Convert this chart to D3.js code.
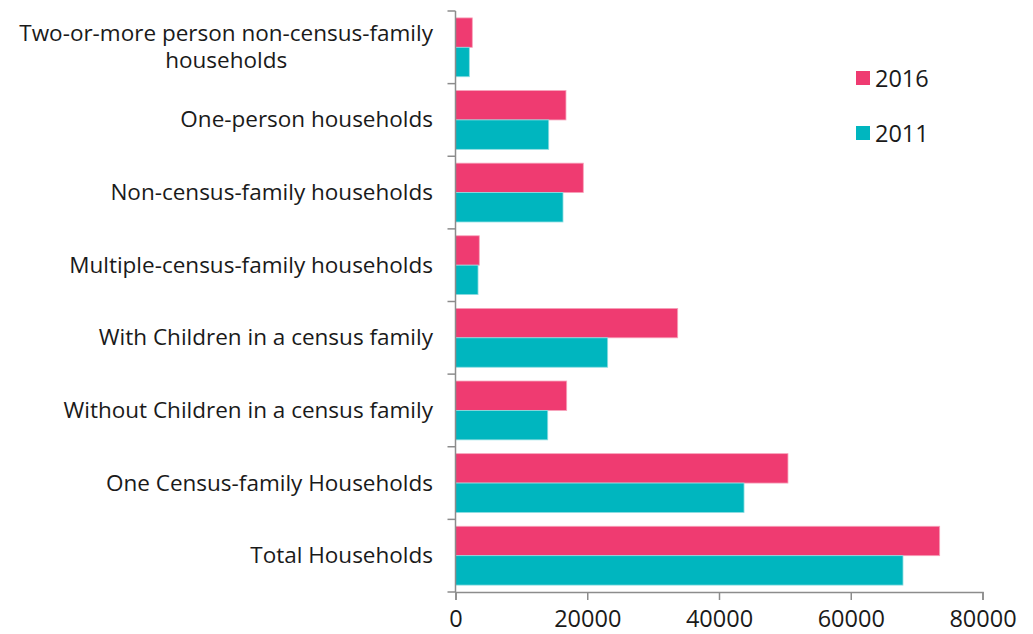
<!DOCTYPE html>
<html>
<head>
<meta charset="utf-8">
<script src="https://cdn.jsdelivr.net/npm/d3@7"></script>
<style>
  body { margin:0; background:#fff; }
  text { font-family: "Open Sans", sans-serif; fill:#1a1a1a; }
</style>
</head>
<body>
<div id="chart"></div>
<script>
// categories top to bottom
var categories = [
  "Two-or-more person non-census-family households",
  "One-person households",
  "Non-census-family households",
  "Multiple-census-family households",
  "With Children in a census family",
  "Without Children in a census family",
  "One Census-family Households",
  "Total Households"
];
// wrapped label lines
var labelLines = [
  ["Two-or-more person non-census-family", "households"],
  ["One-person households"],
  ["Non-census-family households"],
  ["Multiple-census-family households"],
  ["With Children in a census family"],
  ["Without Children in a census family"],
  ["One Census-family Households"],
  ["Total Households"]
];
var values2016 = [2550, 16770, 19400, 3610, 33730, 16880, 50470, 73500];
var values2011 = [2100, 14150, 16320, 3420, 23100, 14000, 43800, 67930];
var seriesNames = ["2016", "2011"];
var seriesColors = ["#ef3b71", "#00b6bf"];
var strokeColors = ["#f7a3bb", "#8fdde1"];
var xTicks = [0, 20000, 40000, 60000, 80000];

var W = 1033, H = 634;
var mLeft = 455.5, mRight = 982.5, mTop = 11, mBottom = 592;

var svg = d3.select("#chart").append("svg")
  .attr("width", W).attr("height", H);

var x = d3.scaleLinear().domain([0, 80000]).range([mLeft, mRight]);
var y = d3.scaleBand().domain(categories).range([mTop, mBottom]).paddingInner(0.19).paddingOuter(0.095);
var ySub = d3.scaleBand().domain(seriesNames).range([0, y.bandwidth()]);

var rows = categories.map(function(c, i){
  return {cat:c, vals:[values2016[i], values2011[i]]};
});

var g = svg.selectAll("g.row").data(rows).enter().append("g")
  .attr("transform", function(d){ return "translate(0," + y(d.cat) + ")"; });

g.selectAll("rect").data(function(d){
    return d.vals.map(function(v, k){ return {v:v, k:k}; });
  }).enter().append("rect")
  .attr("x", x(0))
  .attr("y", function(d){ return ySub(seriesNames[d.k]); })
  .attr("width", function(d){ return x(d.v) - x(0); })
  .attr("height", ySub.bandwidth())
  .style("fill", function(d){ return seriesColors[d.k]; })
  .style("stroke", function(d){ return strokeColors[d.k]; })
  .style("stroke-width", 0.8);

// y axis: line with ticks at band boundaries
var axisColor = "#8c8c8c";
svg.append("line")
  .attr("x1", mLeft).attr("x2", mLeft).attr("y1", mTop).attr("y2", mBottom)
  .style("stroke", axisColor).style("stroke-width", 1.5);
var step = (mBottom - mTop) / categories.length;
d3.range(categories.length + 1).forEach(function(i){
  svg.append("line")
    .attr("x1", mLeft - 8).attr("x2", mLeft)
    .attr("y1", mTop + i*step).attr("y2", mTop + i*step)
    .style("stroke", axisColor).style("stroke-width", 1.5);
});

// x axis
var xAxis = svg.append("g")
  .attr("transform", "translate(0," + mBottom + ")")
  .call(d3.axisBottom(x).tickValues(xTicks).tickSize(8).tickPadding(10).tickFormat(d3.format("d")));
xAxis.select(".domain").style("stroke", axisColor).style("stroke-width", 1.5);
xAxis.selectAll(".tick line").style("stroke", axisColor).style("stroke-width", 1.5);
xAxis.selectAll(".tick text")
  .style("font-family", "'Open Sans', sans-serif")
  .style("font-size", "23.5px")
  .style("fill", "#1a1a1a");

// category labels
var labelSize = "22.5px";
var lineH = 27;
labelLines.forEach(function(lines, i){
  var cy = y(categories[i]) + y.bandwidth()/2;
  var t = svg.append("text")
    .style("font-size", labelSize)
    .attr("text-anchor", "middle");
  var widths = lines.map(function(s){
    var e = svg.append("text").style("font-size", labelSize).text(s);
    var w = e.node().getComputedTextLength();
    e.remove();
    return w;
  });
  var cx = 433 - d3.max(widths)/2;
  var y0 = cy - (lines.length - 1) * lineH / 2 + 7.5;
  lines.forEach(function(s, j){
    t.append("tspan").attr("x", cx).attr("y", y0 + j*lineH).text(s);
  });
});

// legend
var legend = svg.selectAll("g.leg").data(seriesNames).enter().append("g")
  .attr("transform", function(d, i){ return "translate(856," + (71 + i*55) + ")"; });
legend.append("rect").attr("width", 14).attr("height", 14)
  .style("fill", function(d, i){ return seriesColors[i]; });
legend.append("text").attr("x", 19).attr("y", 15.5)
  .style("font-size", "23.5px").text(function(d){ return d; });
</script>
</body>
</html>
